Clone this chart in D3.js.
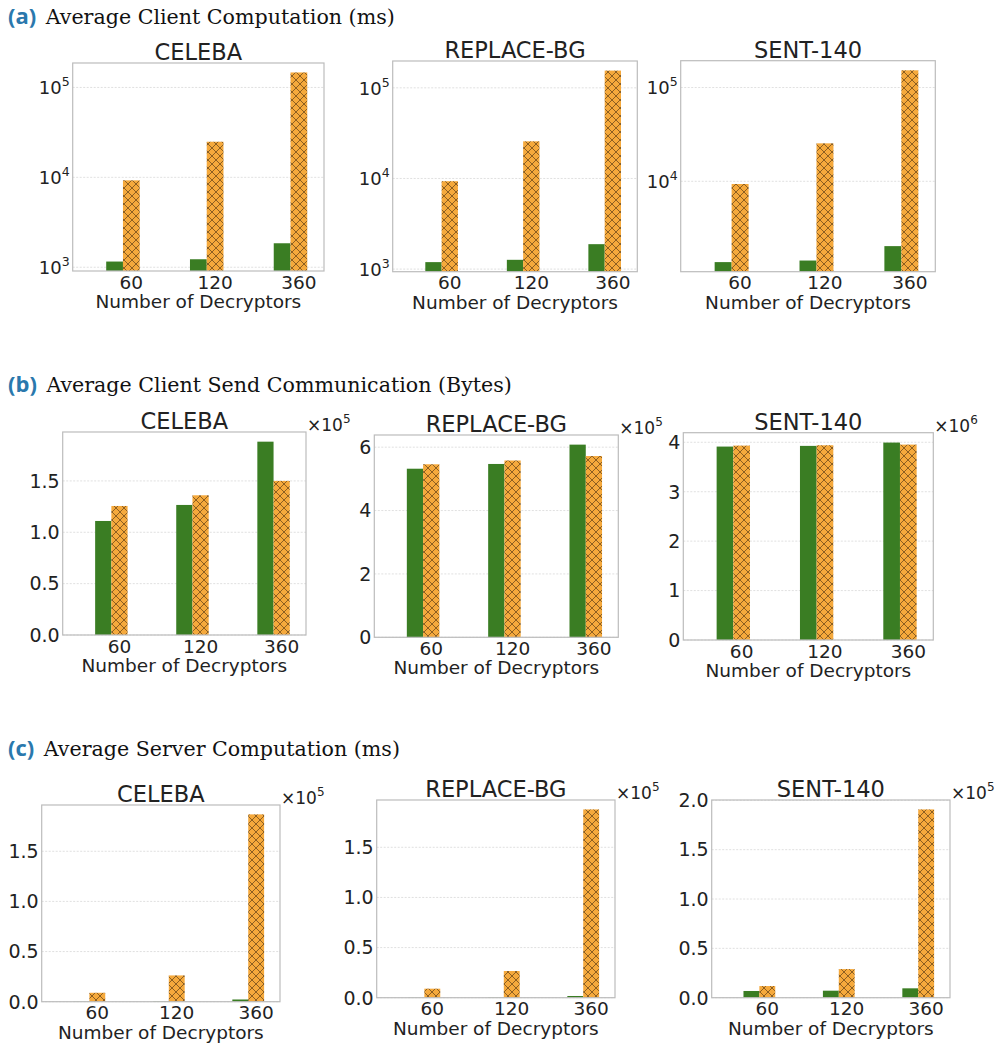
<!DOCTYPE html>
<html>
<head>
<meta charset="utf-8">
<script src="https://cdn.jsdelivr.net/npm/d3@7"></script>
<style>
  body { margin: 0; background: #fff; }
  text { font-family: "DejaVu Sans", sans-serif; fill: #222; }
</style>
</head>
<body>
<script>
// data
let decryptors = ["60", "120", "360"]
let datasets = ["CELEBA", "REPLACE-BG", "SENT-140"]
let sectionLetters = ["(a)", "(b)", "(c)"]
let sectionTitles = ["Average Client Computation (ms)", "Average Client Send Communication (Bytes)", "Average Server Computation (ms)"]

// (a) client computation, ms (log scale)
let clientCompGreen = [[1157, 1227, 1848], [1194, 1266, 1884], [1375, 1429, 2036]]
let clientCompOrange = [[9260, 24900, 146800], [9330, 25700, 155000], [9360, 25400, 152700]]
let clientCompTicks = [1e3, 1e4, 1e5]

// (b) client send communication, bytes
let clientSendGreen = [[111000, 126600, 188200], [532000, 547000, 608000], [3913000, 3927000, 3994000]]
let clientSendOrange = [[125600, 136000, 150000], [546000, 558000, 572000], [3933000, 3940000, 3953000]]
let clientSendTicks = [[0, 0.5, 1.0, 1.5], [0, 2, 4, 6], [0, 1, 2, 3, 4]]
let clientSendFmt = [".1f", "d", "d"]

// (c) server computation, ms
let serverGreen = [[200, 400, 2200], [200, 300, 1700], [6800, 7100, 9500]]
let serverOrange = [[8900, 26200, 186800], [9000, 26600, 187800], [11800, 29000, 190800]]
let serverTicks = [[0, 0.5, 1.0, 1.5], [0, 0.5, 1.0, 1.5], [0, 0.5, 1.0, 1.5, 2.0]]
let serverFmt = [".1f", ".1f", ".1f"]

// layout: plot boxes [left, top, right, bottom]
let boxes = [
    [[72.7, 63, 324, 271], [392.7, 61, 637.3, 271.7], [680.7, 60.7, 935.3, 271.7]],
    [[62.7, 432, 306, 635], [374.3, 435, 618.3, 637.3], [683.3, 432.7, 933.3, 640]],
    [[41.7, 805, 280, 1001.7], [376.7, 800, 615, 997.7], [711.7, 800, 950, 997.7]]
]
let headingY = [24, 392, 756]

let green = "#3a7d23"
let orange = "#f5a93c"

let svg = d3.select("body").append("svg")
    .attr("width", 996)
    .attr("height", 1044)

let defs = svg.append("defs")
let pat = defs.append("pattern")
    .attr("id", "hatch")
    .attr("patternUnits", "userSpaceOnUse")
    .attr("width", 8)
    .attr("height", 8)
pat.append("rect").attr("width", 8).attr("height", 8).attr("fill", orange)
pat.append("path")
    .attr("d", "M0,0 L8,8 M8,0 L0,8 M-1,7 L1,9 M7,-1 L9,1 M-1,1 L1,-1 M7,9 L9,7")
    .attr("stroke", "#5a3c14")
    .attr("stroke-opacity", 0.8)
    .attr("stroke-width", 0.85)

// section headings
sectionTitles.forEach((t, i) => {
    let g = svg.append("text")
        .attr("x", 8)
        .attr("y", headingY[i])
    g.append("tspan")
        .text(sectionLetters[i])
        .style("font-family", "'Open Sans', sans-serif")
        .style("font-weight", "bold")
        .style("font-size", "22px")
        .style("fill", "#2a78ad")
    g.append("tspan")
        .text(" " + t)
        .attr("dx", 3)
        .style("font-family", "'DejaVu Serif', serif")
        .style("font-size", "20.6px")
        .style("fill", "#111")
})

function addSup(sel, base, sup, supSize) {
    sel.append("tspan").text(base)
    sel.append("tspan").text(sup)
        .attr("dy", -8)
        .style("font-size", supSize + "px")
}

function panel(box, title, gv, ov, opts) {
    let [l, t, r, b] = box
    let x = d3.scaleLinear([-0.5, 2.5], [l, r])
    let y
    if (opts.log) {
        let lo = Math.log10(d3.min(gv.concat(ov)))
        let hi = Math.log10(d3.max(gv.concat(ov)))
        let m = (hi - lo) * 0.05
        y = d3.scaleLog([Math.pow(10, lo - m), Math.pow(10, hi + m)], [b, t])
    } else {
        y = d3.scaleLinear([0, d3.max(gv.concat(ov)) * 1.05 / opts.scale], [b, t])
    }
    let g = svg.append("g")
    let ticks = opts.ticks.filter(v => v >= y.domain()[0] && v <= y.domain()[1])

    // grid
    g.append("g").selectAll("line")
        .data(ticks)
        .enter()
        .append("line")
            .attr("x1", l).attr("x2", r)
            .attr("y1", d => y(d)).attr("y2", d => y(d))
            .attr("stroke", "#d8d8d8")
            .attr("stroke-width", 0.8)
            .attr("stroke-dasharray", "2,1.5")

    let bw = x(0.2) - x(0)
    let vals = opts.log ? v => v : v => v / opts.scale
    g.append("g").selectAll("rect")
        .data(gv)
        .enter()
        .append("rect")
            .attr("x", (d, i) => x(i - 0.1))
            .attr("width", bw)
            .attr("y", d => y(vals(d)))
            .attr("height", d => b - y(vals(d)))
            .attr("fill", green)
    g.append("g").selectAll("rect")
        .data(ov)
        .enter()
        .append("rect")
            .attr("x", (d, i) => x(i + 0.1))
            .attr("width", bw)
            .attr("y", d => y(vals(d)))
            .attr("height", d => b - y(vals(d)))
            .attr("fill", "url(#hatch)")

    // frame
    g.append("rect")
        .attr("x", l).attr("y", t)
        .attr("width", r - l).attr("height", b - t)
        .attr("fill", "none")
        .attr("stroke", "#bcbcbc")
        .attr("stroke-width", 1.2)

    // y tick labels
    let yl = g.append("g").selectAll("text")
        .data(ticks)
        .enter()
        .append("text")
            .attr("x", l - 3)
            .attr("y", d => y(d) + 6.8)
            .attr("text-anchor", "end")
            .style("font-size", opts.log ? "18px" : "19px")
    if (opts.log) {
        yl.each(function(d) { addSup(d3.select(this), "10", Math.round(Math.log10(d)), 12.5) })
    } else {
        yl.text(d => d3.format(opts.fmt)(d))
    }

    // x tick labels
    g.append("g").selectAll("text")
        .data(decryptors)
        .enter()
        .append("text")
            .attr("x", (d, i) => x(i + 0.2))
            .attr("y", b + 17.5)
            .attr("text-anchor", "middle")
            .style("font-size", "18.5px")
            .text(d => d)

    g.append("text")
        .attr("x", (l + r) / 2)
        .attr("y", b + 37)
        .attr("text-anchor", "middle")
        .style("font-size", "18.5px")
        .text("Number of Decryptors")

    g.append("text")
        .attr("x", (l + r) / 2)
        .attr("y", t - 3)
        .attr("text-anchor", "middle")
        .style("font-size", "22.5px")
        .text(title)

    if (!opts.log) {
        let ex = g.append("text")
            .attr("x", r + 1)
            .attr("y", t - 1)
            .style("font-size", "17px")
        addSup(ex, "\u00d710", Math.round(Math.log10(opts.scale)), 12)
    }
}

datasets.forEach((d, i) => {
    panel(boxes[0][i], d, clientCompGreen[i], clientCompOrange[i], { log: true, ticks: clientCompTicks })
})
datasets.forEach((d, i) => {
    let scale = Math.pow(10, Math.floor(Math.log10(d3.max(clientSendGreen[i].concat(clientSendOrange[i])))))
    panel(boxes[1][i], d, clientSendGreen[i], clientSendOrange[i], { log: false, scale: scale, ticks: clientSendTicks[i], fmt: clientSendFmt[i] })
})
datasets.forEach((d, i) => {
    let scale = Math.pow(10, Math.floor(Math.log10(d3.max(serverGreen[i].concat(serverOrange[i])))))
    panel(boxes[2][i], d, serverGreen[i], serverOrange[i], { log: false, scale: scale, ticks: serverTicks[i], fmt: serverFmt[i] })
})
</script>
</body>
</html>
